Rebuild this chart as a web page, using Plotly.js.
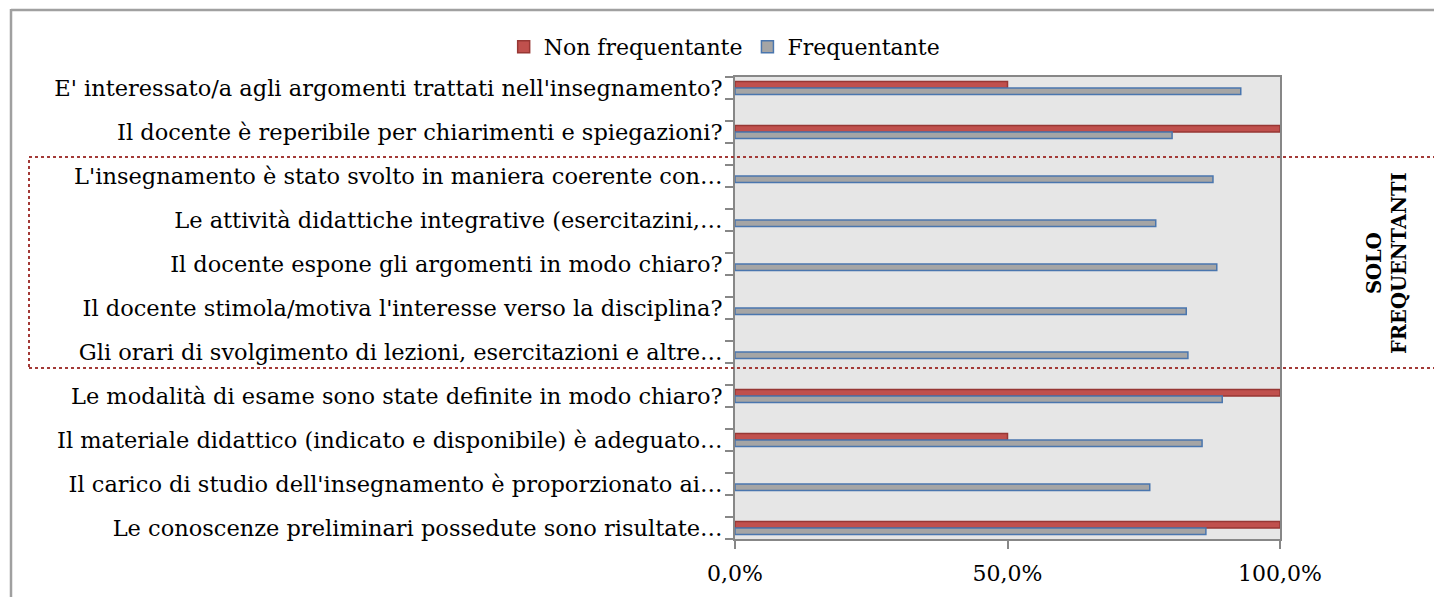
<!DOCTYPE html>
<html>
<head>
<meta charset="utf-8">
<script src="https://cdn.plot.ly/plotly-3.0.1.min.js"></script>
<style>html,body{margin:0;padding:0;background:#fff;}#chart{width:1434px;height:597px;}</style>
</head>
<body>
<div id="chart"></div>
<script>
const categories = [
  "E' interessato/a agli argomenti trattati nell'insegnamento?",
  "Il docente è reperibile per chiarimenti e spiegazioni?",
  "L'insegnamento è stato svolto in maniera coerente con…",
  "Le attività didattiche integrative (esercitazini,…",
  "Il docente espone gli argomenti in modo chiaro?",
  "Il docente stimola/motiva l'interesse verso la disciplina?",
  "Gli orari di svolgimento di lezioni, esercitazioni e altre…",
  "Le modalità di esame sono state definite in modo chiaro?",
  "Il materiale didattico (indicato e disponibile) è adeguato…",
  "Il carico di studio dell'insegnamento è proporzionato ai…",
  "Le conoscenze preliminari possedute sono risultate…"
];
const nonFrequentante = [50, 100, null, null, null, null, null, 100, 50, null, 100];
const frequentante = [92.8, 80.2, 87.7, 77.2, 88.4, 82.8, 83.1, 89.4, 85.7, 76.1, 86.4];
const xTickValues = [0, 50, 100];
const xTickLabels = ["0,0%", "50,0%", "100,0%"];
const seriesNames = ["Non frequentante", "Frequentante"];
const noteText = "SOLO<br>FREQUENTANTI";

// each question occupies every other slot of the category axis
const pos = categories.map((c, i) => i * 2);
const nSlots = categories.length * 2 - 1;
const slotBounds = [];
for (let k = 0; k <= nSlots; k++) slotBounds.push(k - 0.5);

const FONT = "DejaVu Serif";
const AX = "#878787";

const traces = [
  {
    type: "bar", orientation: "h", name: seriesNames[0],
    x: nonFrequentante, y: pos, width: 0.3, offset: -0.3,
    marker: {color: "#C0504D", line: {color: "#973734", width: 1.5}},
    hoverinfo: "x+name"
  },
  {
    type: "bar", orientation: "h", name: seriesNames[1],
    x: frequentante, y: pos, width: 0.3, offset: 0,
    marker: {color: "#A5A5A5", line: {color: "#4A76AE", width: 1.5}},
    hoverinfo: "x+name"
  }
];

// helpers converting pixel geometry to paper coordinates
const W = 1434, H = 597;
const mL = 735, mR = 154, mT = 77, mB = 58;
const pw = W - mL - mR, ph = H - mT - mB;
const px = v => (v - mL) / pw;
const py = v => 1 - (v - mT) / ph;

const layout = {
  width: W, height: H,
  margin: {l: mL, r: mR, t: mT, b: mB, pad: 0},
  paper_bgcolor: "#ffffff",
  plot_bgcolor: "#E6E6E6",
  barmode: "overlay",
  font: {family: FONT, size: 22, color: "#000"},
  showlegend: true,
  legend: {
    orientation: "h", xref: "container", yref: "container",
    x: 0.505, xanchor: "center", y: 1 - 47 / H, yanchor: "middle",
    font: {family: FONT, size: 22, color: "#000"},
    traceorder: "normal", itemwidth: 30, bgcolor: "rgba(0,0,0,0)"
  },
  xaxis: {
    range: [0, 100], tickmode: "array", tickvals: xTickValues, ticktext: xTickLabels,
    ticks: "outside", ticklen: 8, tickwidth: 2, tickcolor: AX,
    showline: true, linecolor: AX, linewidth: 2, mirror: true,
    showgrid: false, zeroline: false, automargin: false,
    ticklabelstandoff: 6,
    tickfont: {family: FONT, size: 22, color: "#000"}
  },
  yaxis: {
    range: [nSlots - 0.5, -0.5], tickmode: "array", tickvals: pos, ticktext: categories,
    ticks: "", showline: true, linecolor: AX, linewidth: 2, mirror: true,
    showgrid: false, zeroline: false, automargin: false,
    ticklabelstandoff: 6,
    tickfont: {family: FONT, size: 22.5, color: "#000"},
    minor: {tickmode: "array", tickvals: slotBounds, ticks: "outside", ticklen: 8, tickwidth: 2, tickcolor: AX, showgrid: false}
  },
  shapes: [
    {type: "rect", xref: "paper", yref: "paper", x0: px(29), x1: px(1440), y0: py(368), y1: py(157),
     line: {color: "#A33A37", width: 2, dash: "dot"}, fillcolor: "rgba(0,0,0,0)", layer: "above"},
    {type: "line", xref: "paper", yref: "paper", x0: px(11), x1: px(1440), y0: py(10), y1: py(10),
     line: {color: "#A0A0A0", width: 2.5}},
    {type: "line", xref: "paper", yref: "paper", x0: px(11), x1: px(11), y0: py(9), y1: py(605),
     line: {color: "#A0A0A0", width: 2.5}}
  ],
  annotations: [
    {xref: "paper", yref: "paper", x: px(1387), y: py(263), text: noteText, showarrow: false,
     textangle: -90, align: "center", xanchor: "center", yanchor: "middle",
     font: {family: FONT, size: 19.5, color: "#000", weight: "bold"}}
  ]
};

Plotly.newPlot("chart", traces, layout, {displayModeBar: false, staticPlot: true});
</script>
</body>
</html>
